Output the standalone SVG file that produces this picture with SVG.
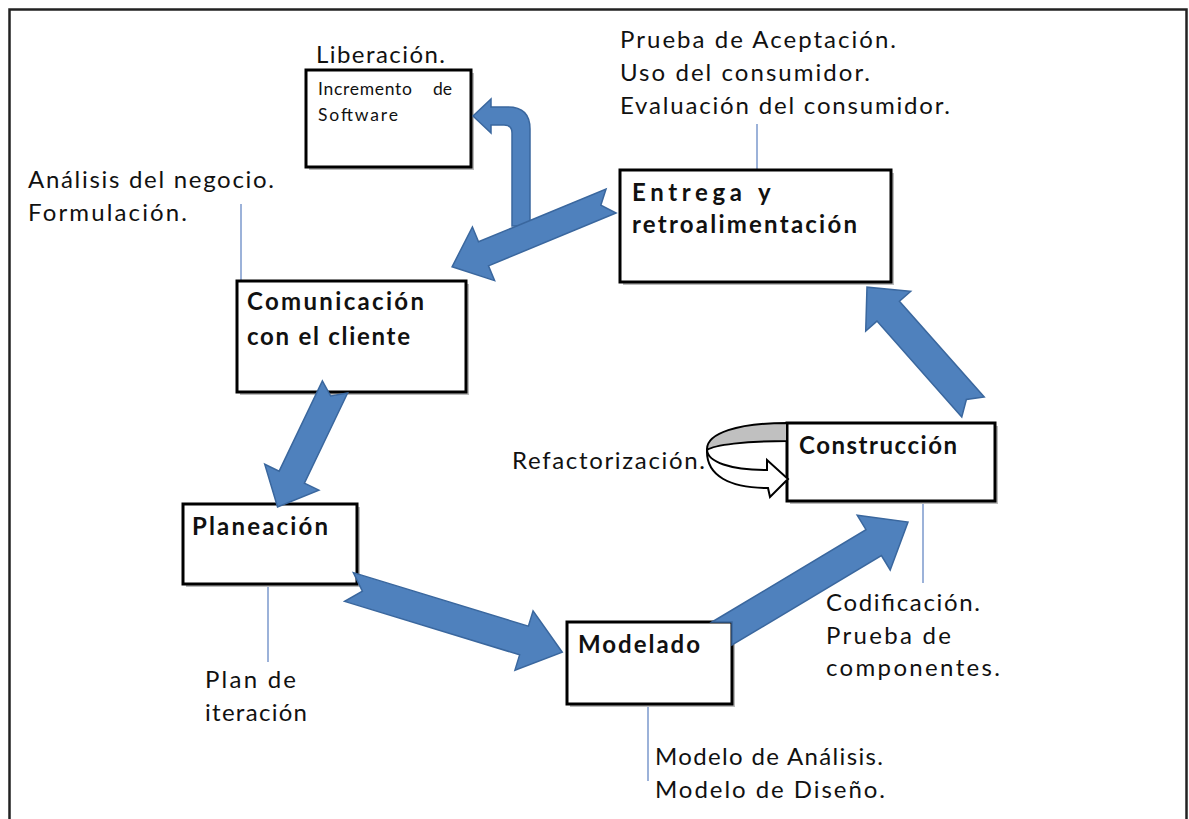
<svg xmlns="http://www.w3.org/2000/svg" width="1189" height="819" viewBox="0 0 1189 819">
<style>
.t{font-family:Lato,"Open Sans","Liberation Sans",sans-serif;font-size:24px;fill:#111}
.b{font-family:Lato,"Open Sans","Liberation Sans",sans-serif;font-size:24px;font-weight:bold;fill:#111}
.s{font-family:Lato,"Open Sans","Liberation Sans",sans-serif;font-size:17.5px;fill:#111}
.box{fill:#fff;stroke:#000;stroke-width:3}
.sh{fill:#bbb}
.ln{stroke:#5a7fc0;stroke-width:1.2;fill:none}
.ar{fill:#4F81BD;stroke:#3A679E;stroke-width:1.5;stroke-linejoin:miter}
</style>
<rect width="1189" height="819" fill="#fff"/>
<rect x="9.5" y="9.5" width="1177" height="830" fill="none" stroke="#222" stroke-width="2.5"/>

<g id="leaders">
<line class="ln" x1="757" y1="124" x2="757" y2="170"/>
<line class="ln" x1="241" y1="204" x2="241" y2="281"/>
<line class="ln" x1="923" y1="501" x2="923" y2="583"/>
<line class="ln" x1="268" y1="584" x2="268" y2="662"/>
<line class="ln" x1="648" y1="704" x2="648" y2="781"/>
</g>

<g id="labels">
<text class="t" x="316" y="63" textLength="129">Liberación.</text>
<text class="t" x="620" y="48" textLength="276">Prueba de Aceptación.</text>
<text class="t" x="620" y="81" textLength="250">Uso del consumidor.</text>
<text class="t" x="620" y="114" textLength="330">Evaluación del consumidor.</text>
<text class="t" x="28" y="188" textLength="246">Análisis del negocio.</text>
<text class="t" x="28" y="221" textLength="159">Formulación.</text>
<text class="t" x="512" y="469" textLength="193">Refactorización.</text>
<text class="t" x="826" y="611" textLength="154">Codificación.</text>
<text class="t" x="826" y="644" textLength="125">Prueba de</text>
<text class="t" x="826" y="676" textLength="174">componentes.</text>
<text class="t" x="205" y="688" textLength="91">Plan de</text>
<text class="t" x="205" y="721" textLength="102">iteración</text>
<text class="t" x="655" y="765" textLength="228">Modelo de Análisis.</text>
<text class="t" x="655" y="798" textLength="230">Modelo de Diseño.</text>
</g>

<g id="node-incremento">
<rect class="sh" x="309" y="73" width="165" height="97"/>
<rect class="box" x="306" y="70" width="165" height="97"/>
<text class="s" x="318" y="95"><tspan textLength="94">Incremento</tspan> <tspan x="433">de</tspan></text>
<text class="s" x="318" y="121" textLength="80">Software</text>
</g>
<g id="node-entrega">
<rect class="sh" x="623" y="173" width="271" height="112"/>
<rect class="box" x="620" y="170" width="271" height="112"/>
<text class="b" x="632" y="201"><tspan textLength="110">Entrega</tspan> <tspan x="758">y</tspan></text>
<text class="b" x="632" y="233" textLength="225">retroalimentación</text>
</g>
<g id="node-comunicacion">
<rect class="sh" x="240" y="284" width="229" height="111"/>
<rect class="box" x="237" y="281" width="229" height="111"/>
<text class="b" x="247" y="310" textLength="177">Comunicación</text>
<text class="b" x="247" y="345" textLength="163">con el cliente</text>
</g>
<g id="node-construccion">
<rect class="sh" x="790" y="426" width="208" height="78"/>
<rect class="box" x="787" y="423" width="208" height="78"/>
<text class="b" x="799" y="454" textLength="158">Construcción</text>
</g>
<g id="node-planeacion">
<rect class="sh" x="186" y="507" width="174" height="80"/>
<rect class="box" x="183" y="504" width="174" height="80"/>
<text class="b" x="192" y="535" textLength="136">Planeación</text>
</g>
<g id="node-modelado">
<rect class="sh" x="570" y="625" width="165" height="82"/>
<rect class="box" x="567" y="622" width="165" height="82"/>
<text class="b" x="578" y="653" textLength="122">Modelado</text>
</g>

<g id="connectors">
<path class="ar" d="M512,226 L512,133 Q512,125 504,125 L491,125 L491,133 L473,116 L491,99 L491,107 L508,107 Q530,107 530,129 L530,226 Z"/>
<polygon class="ar" transform="translate(611,201) rotate(157.5)" points="0,-13 138,-13 138,-29 172,0 138,29 138,13 0,13 11,0"/>
<polygon class="ar" transform="translate(335,387) rotate(115.6)" points="0,-14 100,-14 100,-30 133,0 100,30 100,14 0,14 10,0"/>
<polygon class="ar" transform="translate(349,587) rotate(17)" points="0,-15 183,-15 183,-31 223,0 183,31 183,15 0,15 14,0"/>
<polygon class="ar" points="712,622 866,529.7 857.2,515.2 908,522 890.2,570 881.4,555.5 732,645 732,622"/>
<polygon class="ar" transform="translate(973,407) rotate(-131.5)" points="0,-15 128,-15 128,-30 160,0 128,30 128,15 0,15 10,0"/>
<path d="M787,423 C738,423 706,433 707,450 C714,445 745,441 787,441 Z" fill="#c0c0c0" stroke="#000" stroke-width="2"/>
<path d="M707,450 C708,462 730,470 767,470 L767,460 L788,479 L770,497 L768,488 C730,488 706,476 707,450 Z" fill="#fff" stroke="#000" stroke-width="2"/>
</g>
</svg>
